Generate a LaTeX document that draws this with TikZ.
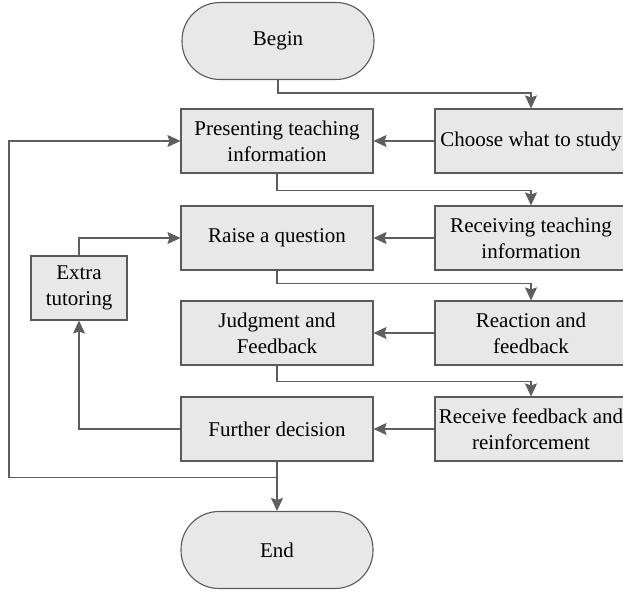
\documentclass[tikz,border=0pt]{standalone}
\usepackage{fontspec}
\setmainfont{Liberation Serif}
\usetikzlibrary{arrows.meta,positioning}
\definecolor{boxfill}{HTML}{E8E8E8}
\definecolor{boxline}{HTML}{5A5A5A}
\definecolor{flowline}{HTML}{5E5E5E}
\tikzset{
  block/.style={draw=boxline, line width=1.1pt, fill=boxfill, align=center,
    minimum width=192pt, minimum height=64pt, inner sep=0pt,
    font=\fontsize{21}{26}\selectfont},
  terminal/.style={block, minimum width=192pt, minimum height=77pt, rounded corners=38pt},
  flow/.style={draw=flowline, line width=1.4pt, -{Stealth[length=13pt,width=12pt,inset=2pt]}}
}
\begin{document}
\begin{tikzpicture}[x=1pt, y=-1pt]
    \useasboundingbox (0,0) rectangle (623,593);

    % Left column
    \node[terminal] (begin) at (278,41) {Begin};
    \node[block] (present) at (277,141) {Presenting teaching\\information};
    \node[block] (raise) at (277,238) {Raise a question};
    \node[block] (judge) at (277,333) {Judgment and\\Feedback};
    \node[block] (further) at (277,429) {Further decision};
    \node[terminal] (end) at (277,550) {End};

    % Right column (cut by the page edge)
    \node[block] (choose) at (531,141) {Choose what to study};
    \node[block] (receive) at (531,238) {Receiving teaching\\information};
    \node[block] (react) at (531,333) {Reaction and\\feedback};
    \node[block] (reinforce) at (531,429) {Receive feedback and\\reinforcement};

    % Side box
    \node[block, minimum width=96pt] (extra) at (79,288) {Extra\\tutoring};

    % Steps down to the right column
    \draw[flow] (begin.south) -- ++(0,13) -| (choose.north);
    \draw[flow] (present.south) -- ++(0,17) -| (receive.north);
    \draw[flow] (raise.south) -- ++(0,13) -| (react.north);
    \draw[flow] (judge.south) -- ++(0,16) -| (reinforce.north);

    % Back to the left column
    \draw[flow] (choose.west) -- (present.east);
    \draw[flow] (receive.west) -- (raise.east);
    \draw[flow] (react.west) -- (judge.east);
    \draw[flow] (reinforce.west) -- (further.east);

    % Extra tutoring loop
    \draw[flow] (further.west) -| (extra.south);
    \draw[flow] (extra.north) |- (raise.west);

    % Outer loop and end
    \coordinate[below=16pt of further.south] (join);
    \draw[flow] (further.south) -- (end.north);
    \draw[flow] (join) -- ++(-268,0) |- (present.west);
\end{tikzpicture}
\end{document}
